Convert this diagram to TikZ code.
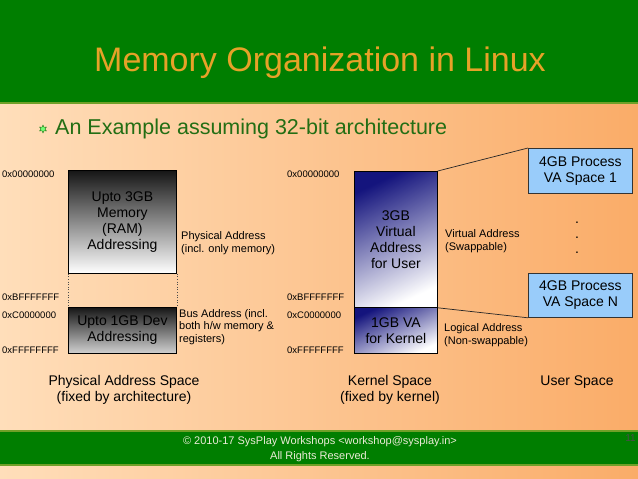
\documentclass[tikz,border=0pt]{standalone}
\usepackage{fontspec}
\setmainfont{Liberation Sans}
\usetikzlibrary{positioning,shapes.geometric}
\definecolor{sGreen}{RGB}{0,126,0}
\definecolor{sEdge}{RGB}{112,160,40}
\definecolor{sGold}{RGB}{230,162,40}
\definecolor{sText}{RGB}{35,110,20}
\definecolor{sPeach}{RGB}{255,222,186}
\definecolor{sOrange}{RGB}{250,172,104}
\definecolor{sNavy}{RGB}{20,20,125}
\definecolor{sBlue}{RGB}{153,204,250}
\definecolor{sInk}{RGB}{22,22,22}
\definecolor{sFoot}{RGB}{235,235,215}
\tikzset{
  blk/.style={rectangle, draw=black, line width=0.8pt, inner sep=0pt,
              align=center, font=\fontsize{14}{16}\selectfont, anchor=north west},
  ram/.style={blk, top color=sInk, bottom color=white},
  dev/.style={blk, top color=sInk, bottom color=black!18},
  virt/.style={blk, top color=sNavy, bottom color=white, shading angle=25},
  proc/.style={blk, fill=sBlue, draw=black!80},
  addr/.style={anchor=west, inner sep=0pt, font=\fontsize{9.5}{11}\selectfont},
  note/.style={anchor=west, inner sep=0pt, align=left, font=\fontsize{11}{12.5}\selectfont},
  spacecap/.style={align=center, inner sep=0pt, font=\fontsize{14}{16}\selectfont},
  link/.style={draw=black!85, line width=0.7pt},
  gap/.style={draw=black!70, dotted, line width=0.6pt},
}

\begin{document}
\begin{tikzpicture}[x=1pt, y=-1pt]
  \useasboundingbox (0,0) rectangle (638,479);
  % --- slide background and bars ---
  \shade[left color=sPeach, right color=sOrange] (0,0) rectangle (638,479);
  \fill[sGreen] (0,0) rectangle (638,102);
  \draw[sEdge, line width=1.5] (0,103) -- (638,103);
  \fill[sGreen] (0,431) rectangle (638,465);
  \draw[sEdge, line width=1.5] (0,431) -- (638,431);
  \draw[sEdge, line width=1.5] (0,465) -- (638,465);

  % --- title and bullet ---
  \node[font=\fontsize{34}{40}\selectfont, text=sGold, anchor=base] (title) at (320,71)
    {Memory Organization in Linux};
  \node[star, star points=6, star point ratio=2, minimum size=8pt, inner sep=0pt,
        fill=green!55!white, draw=sText, line width=0.4pt] (bullet) at (43,129) {};
  \node[font=\fontsize{21.5}{24}\selectfont, text=sText, anchor=base west, inner sep=0pt]
    (sub) at (55,134) {An Example assuming 32-bit architecture};

  % --- physical address space ---
  \node[ram, minimum width=108, minimum height=103] (ram) at (68,170)
    {Upto 3GB\\Memory\\(RAM)\\Addressing};
  \node[dev, minimum width=108, minimum height=46] (dev) at (68,307)
    {Upto 1GB Dev\\Addressing};
  \draw[gap] (ram.south west) -- (dev.north west);
  \draw[gap] (ram.south east) -- (dev.north east);
  \node[addr] (p0) at (2,174) {0x00000000};
  \node[addr] (pb) at (2,297) {0xBFFFFFFF};
  \node[addr] (pc) at (2,315) {0xC0000000};
  \node[addr] (pf) at (2,350) {0xFFFFFFFF};
  \node[note] (phys) at (181,243) {Physical Address\\(incl. only memory)};
  \node[note] (bus) at (179,327) {Bus Address (incl.\\both h/w memory \&\\registers)};

  % --- kernel (virtual) address space ---
  \node[virt, minimum width=83, minimum height=136] (user) at (354,171)
    {3GB\\Virtual\\Address\\for User};
  \node[virt, minimum width=83, minimum height=46] (kern) at (354,307)
    {1GB VA\\for Kernel};
  \node[addr] (k0) at (287,174) {0x00000000};
  \node[addr] (kb) at (287,297) {0xBFFFFFFF};
  \node[addr] (kc) at (287,315) {0xC0000000};
  \node[addr] (kf) at (287,350) {0xFFFFFFFF};
  \node[note] (virtaddr) at (445,241) {Virtual Address\\(Swappable)};
  \node[note] (logaddr) at (444,335) {Logical Address\\(Non-swappable)};

  % --- per-process user spaces ---
  \node[proc, minimum width=104, minimum height=45] (vas1) at (528,148)
    {4GB Process\\VA Space 1};
  \node[proc, minimum width=104, minimum height=44] (vasn) at (528,273)
    {4GB Process\\VA Space N};
  \node[align=center, inner sep=0pt, font=\fontsize{14}{15}\selectfont] (dots) at (577,238)
    {.\\.\\.};
  \draw[link] (user.north east) -- (vas1.north west);
  \draw[link] (user.south east) -- (vasn.south west);

  % --- captions ---
  \node[spacecap] (physcap) at (124,390) {Physical Address Space\\(fixed by architecture)};
  \node[spacecap] (kerncap) at (390,390) {Kernel Space\\(fixed by kernel)};
  \node[spacecap] (usercap) at (577,382) {User Space};

  % --- footer ---
  \node[align=center, inner sep=0pt, text=sFoot, font=\fontsize{11}{15}\selectfont]
    (foot) at (320,449) {\textcopyright{} 2010-17 SysPlay Workshops <workshop@sysplay.in>\\All Rights Reserved.};
  \node[anchor=east, inner sep=0pt, text=black!70, font=\fontsize{10}{11}\selectfont]
    (pg) at (636,438) {11};
\end{tikzpicture}
\end{document}
